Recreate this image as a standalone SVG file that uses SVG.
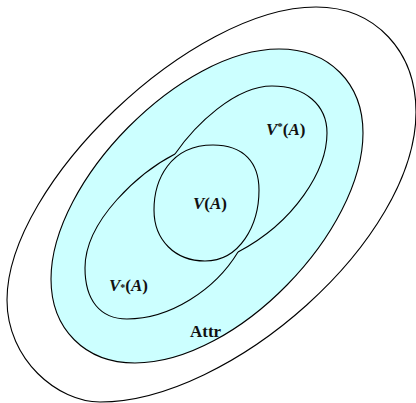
<svg xmlns="http://www.w3.org/2000/svg" width="416" height="403" viewBox="0 0 416 403">
<style>
.ln{fill:none;stroke:#000;stroke-width:1.1}
.lbl{font-family:"Liberation Serif","Times New Roman",serif;font-size:17px;font-weight:bold;fill:#111}
.it{font-style:italic}
</style>
<rect width="416" height="403" fill="#fff"/>
<g id="outer">
<path class="ln" d="M316,7 C376,7 416,52 416,112 C416,240 230,402 100,402 C58,402 7,360 7,300 C7,184 192,7 316,7 Z"/>
</g>
<g id="attr">
<path d="M279,49 C329,49 363,83 363,133 C363,231 237,363 135,363 C85,363 51,329 51,279 C51,181 181,49 279,49 Z" fill="#ccffff" stroke="#000" stroke-width="1.1"/>
<text class="lbl" x="190" y="337">Attr</text>
</g>
<g id="v-upper">
<path class="ln" d="M175,154 C195,125 235,86 272,86 C305,86 327,105 327,133 C327,170 295,222 238,252"/>
<text class="lbl" x="266" y="135"><tspan class="it">V</tspan><tspan font-size="11" dy="-5">*</tspan><tspan dy="5">(</tspan><tspan class="it">A</tspan>)</text>
</g>
<g id="v-lower">
<path class="ln" d="M175,154 C140,172 85,220 85,268 C85,300 100,319 127,319 C170,319 215,290 238,252"/>
<text class="lbl" x="109" y="291"><tspan class="it">V</tspan><tspan font-size="10">*</tspan>(<tspan class="it">A</tspan>)</text>
</g>
<g id="v">
<path class="ln" d="M213,145 C244,145 259,163 259,190 C259,225 240,261 205,261 C175,261 154,240 154,210 C154,180 170,145 213,145 Z"/>
<text class="lbl" x="193" y="209"><tspan class="it">V</tspan>(<tspan class="it">A</tspan>)</text>
</g>
<g id="connectors"/>
</svg>
